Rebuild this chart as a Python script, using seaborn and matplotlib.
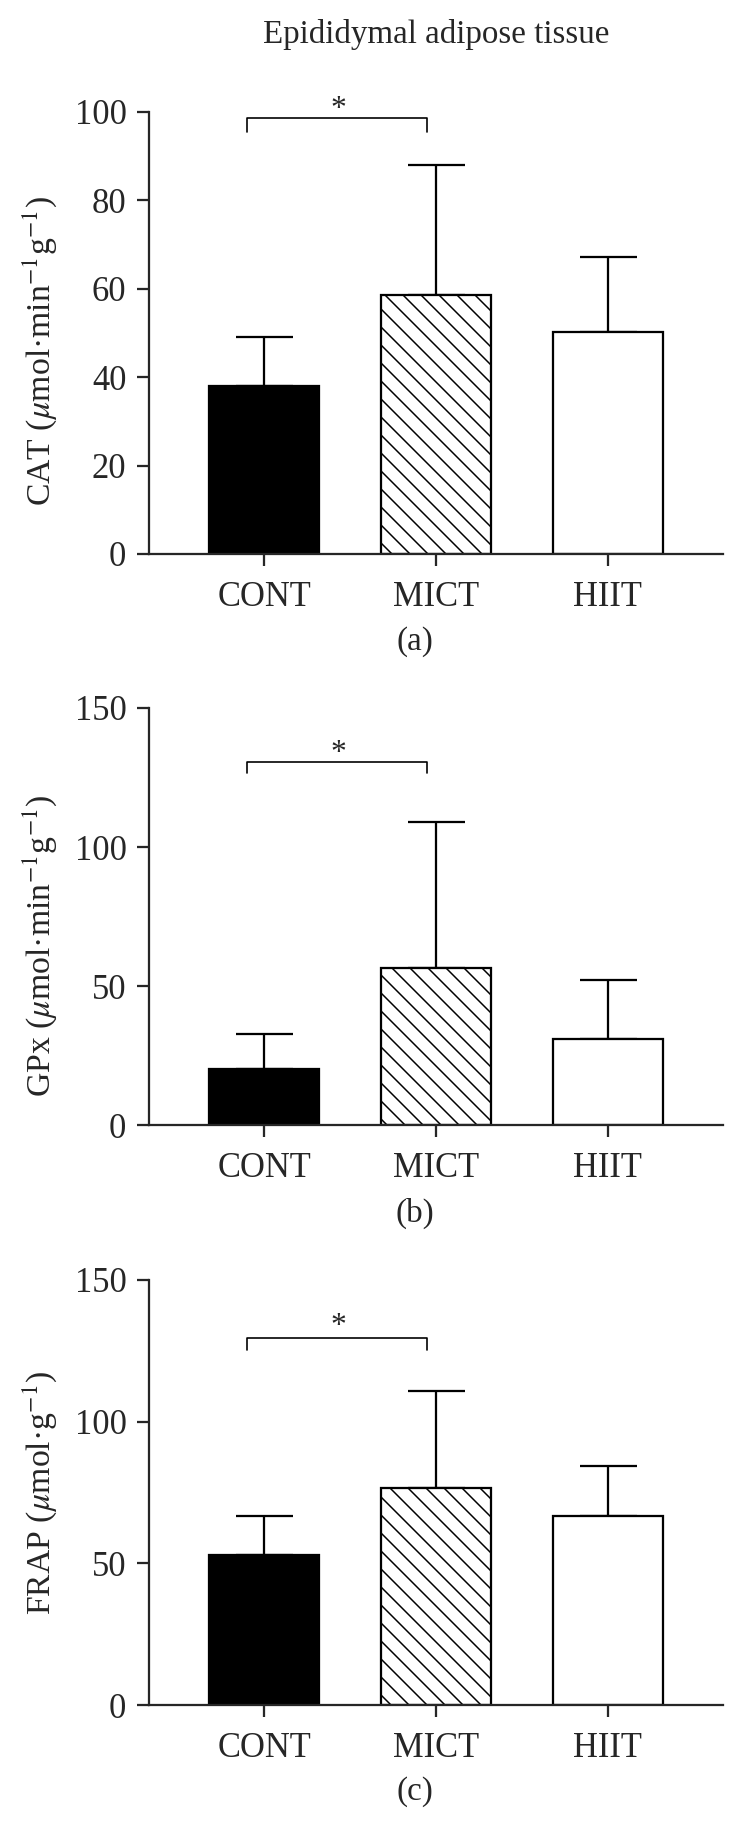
import numpy as np
import pandas as pd
import matplotlib
matplotlib.use('Agg')
import matplotlib.pyplot as plt
import seaborn as sns

GROUPS = ['CONT', 'MICT', 'HIIT']
COLORS = ['black', 'white', 'white']

# means and upper SD
CAT_MEAN = [38.0, 58.5, 50.2]
CAT_SD = [11.0, 29.6, 17.1]
GPX_MEAN = [20.3, 56.3, 31.0]
GPX_SD = [12.4, 52.8, 21.3]
FRAP_MEAN = [52.8, 76.6, 66.6]
FRAP_SD = [13.8, 34.1, 17.8]

# significance bracket CONT vs MICT: (bracket height, leg bottom, star height)
CAT_SIG = (98.6, 95.5, 102.5)
GPX_SIG = (130.6, 126.6, 136.5)
FRAP_SIG = (129.5, 125.3, 136.5)

DPI = 108
LW = 1.5

sns.set_style('ticks')
plt.rcParams['font.family'] = ['Liberation Serif', 'DejaVu Serif']
plt.rcParams['mathtext.fontset'] = 'stix'
plt.rcParams['hatch.linewidth'] = 1.0
plt.rcParams['axes.linewidth'] = LW


def draw_panel(ax, mean, sd, ylim, yticks, ylabel, sig, label_y):
    df = pd.DataFrame({'group': GROUPS, 'value': mean})
    sns.barplot(data=df, x='group', y='value', hue='group', palette=COLORS,
                legend=False, edgecolor='black', linewidth=LW, width=0.64,
                errorbar=None, ax=ax, zorder=2)
    for bar in ax.patches:
        idx = int(round(bar.get_x() + bar.get_width() / 2))
        if idx == 1:
            bar.set_hatch('\\\\')
    x = np.arange(len(GROUPS))
    ax.errorbar(x, mean, yerr=[np.zeros(len(sd)), sd], fmt='none', ecolor='black',
                elinewidth=LW, capsize=19, capthick=LW, zorder=1)

    # bracket CONT - MICT
    top, leg, star = sig
    ax.plot([-0.1, -0.1, 0.95, 0.95], [leg, top, top, leg], color='black', lw=1.1,
            clip_on=False)
    ax.annotate('*', xy=(0.43, star), xytext=(0, -5.5), textcoords='offset points',
                ha='center', va='center', fontsize=21, annotation_clip=False)

    ax.set_xlim(-0.67, 2.67)
    ax.set_ylim(*ylim)
    ax.set_yticks(yticks)
    ax.set_xlabel('')
    ax.set_ylabel(ylabel, fontsize=22.5)
    ax.yaxis.set_label_coords(-0.155, label_y)
    sns.despine(ax=ax)
    ax.tick_params(axis='both', labelsize=23, length=8, width=LW, direction='out')
    ax.tick_params(axis='x', pad=10)
    ax.tick_params(axis='y', pad=7)


fig = plt.figure(figsize=(736 / DPI, 1827 / DPI), dpi=DPI)
left, width = 149 / 736, 574 / 736
ax_a = fig.add_axes([left, 1 - 554 / 1827, width, 442 / 1827])
ax_b = fig.add_axes([left, 1 - 1125 / 1827, width, 417 / 1827])
ax_c = fig.add_axes([left, 1 - 1705 / 1827, width, 425 / 1827])

draw_panel(ax_a, CAT_MEAN, CAT_SD, (0, 100), [0, 20, 40, 60, 80, 100],
           'CAT ($\\mu$mol·min$^{-1}$g$^{-1}$)', CAT_SIG, 0.46)
draw_panel(ax_b, GPX_MEAN, GPX_SD, (0, 150), [0, 50, 100, 150],
           'GPx ($\\mu$mol·min$^{-1}$g$^{-1}$)', GPX_SIG, 0.43)
draw_panel(ax_c, FRAP_MEAN, FRAP_SD, (0, 150), [0, 50, 100, 150],
           'FRAP ($\\mu$mol·g$^{-1}$)', FRAP_SIG, 0.5)

fig.text(436 / 736, 1 - 35 / 1827, 'Epididymal adipose tissue', ha='center', va='center',
         fontsize=22)
for label, ypix in [('(a)', 642), ('(b)', 1213), ('(c)', 1792)]:
    fig.text(415 / 736, 1 - ypix / 1827, label, ha='center', va='center', fontsize=22)

fig.savefig('out.png', dpi=DPI)
